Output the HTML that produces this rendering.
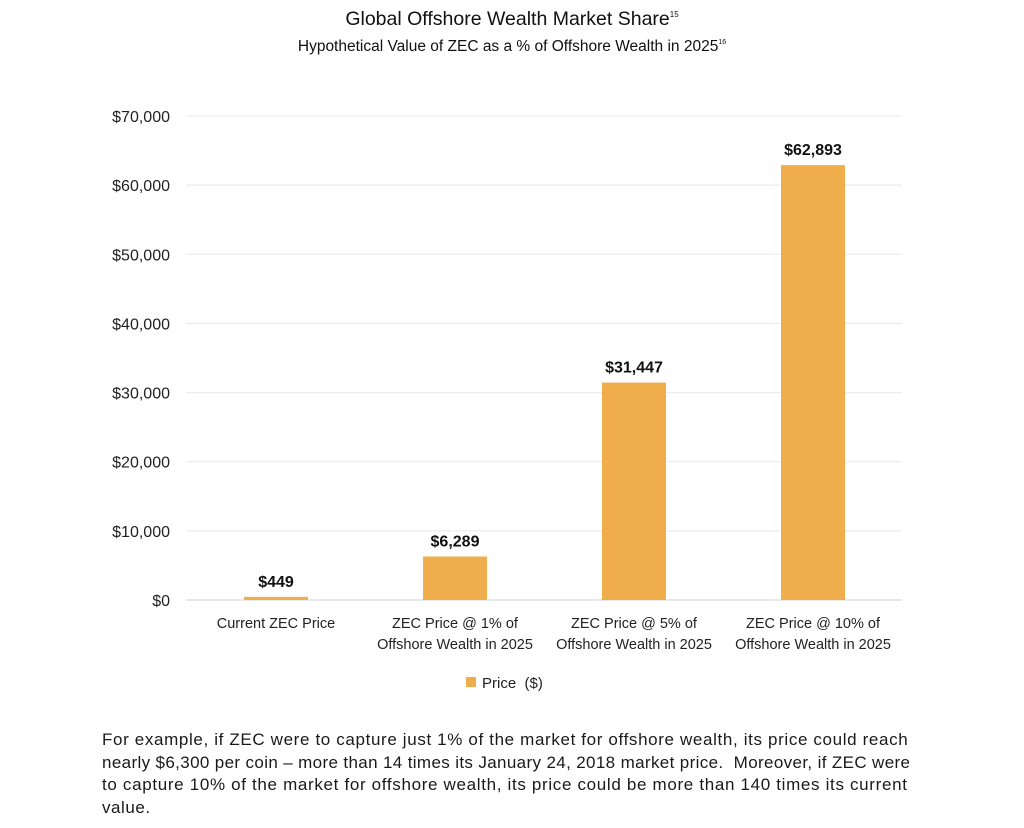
<!DOCTYPE html>
<html><head><meta charset="utf-8"><style>
body{margin:0;background:#fff;width:1024px;height:828px;overflow:hidden;font-family:"Liberation Sans",sans-serif;color:#111}
.p{position:absolute;left:102px;top:729px;font-size:17px;line-height:22.7px;color:#1a1a1a;white-space:nowrap}
.p span{display:block}
</style></head><body>
<svg width="1024" height="720" style="position:absolute;left:0;top:0">
<text x="512" y="25" text-anchor="middle" font-size="19.5" fill="#111">Global Offshore Wealth Market Share<tspan font-size="8" dy="-8">15</tspan></text>
<text x="512" y="51" text-anchor="middle" font-size="15.5" fill="#111">Hypothetical Value of ZEC as a % of Offshore Wealth in 2025<tspan font-size="7" dy="-7">16</tspan></text>
<g id="grid"></g><g id="bars"></g><g id="labels"></g>
<rect x="466" y="677" width="10" height="10" fill="#F0AD4C"/>
<text x="482" y="688" font-size="15" fill="#222">Price &#160;($)</text>
</svg>
<div class="p"><span style="letter-spacing:0.64px">For example, if ZEC were to capture just 1% of the market for offshore wealth, its price could reach</span><span style="letter-spacing:0.36px">nearly $6,300 per coin – more than 14 times its January 24, 2018 market price.&#160; Moreover, if ZEC were</span><span style="letter-spacing:0.67px">to capture 10% of the market for offshore wealth, its price could be more than 140 times its current</span><span style="letter-spacing:0.55px">value.</span></div>
<script>
const categories=[["Current ZEC Price"],["ZEC Price @ 1% of","Offshore Wealth in 2025"],["ZEC Price @ 5% of","Offshore Wealth in 2025"],["ZEC Price @ 10% of","Offshore Wealth in 2025"]];
const values=[449,6289,31447,62893];
const valueLabels=["$449","$6,289","$31,447","$62,893"];
const ticks=[0,10000,20000,30000,40000,50000,60000,70000];
const tickLabels=["$0","$10,000","$20,000","$30,000","$40,000","$50,000","$60,000","$70,000"];
const NS="http://www.w3.org/2000/svg";
const y=v=>600-v*(484/70000);
const x=i=>276+i*179;
function mk(t,a,p,txt){const e=document.createElementNS(NS,t);for(const k in a)e.setAttribute(k,a[k]);if(txt!==undefined)e.textContent=txt;p.appendChild(e);return e;}
const g=document.getElementById('grid'),b=document.getElementById('bars'),l=document.getElementById('labels');
ticks.forEach((t,i)=>{
 const ln=mk('line',{x1:186,x2:902,y1:y(t),y2:y(t),stroke:i==0?'#d0d0d0':'#e8e8e8','stroke-width':1},g);
 
 
 const tx=mk('text',{x:170,y:y(t)+6,'text-anchor':'end','font-size':16,fill:'#222'},g,tickLabels[i]);
 
 
});
values.forEach((v,i)=>{
 const r=mk('rect',{x:x(i)-32,y:y(v),width:64,height:600-y(v),fill:'#F0AD4C'},b);
 
 
 const vl=mk('text',{x:x(i),y:y(v)-10,'text-anchor':'middle','font-size':16,'font-weight':'bold',fill:'#111'},l,valueLabels[i]);
 
 
 categories[i].forEach((c,j)=>{
  const ct=mk('text',{x:x(i),y:628+j*21,'text-anchor':'middle','font-size':14.5,fill:'#222'},l,c);
  
  
 });
});
</script>
</body></html>
